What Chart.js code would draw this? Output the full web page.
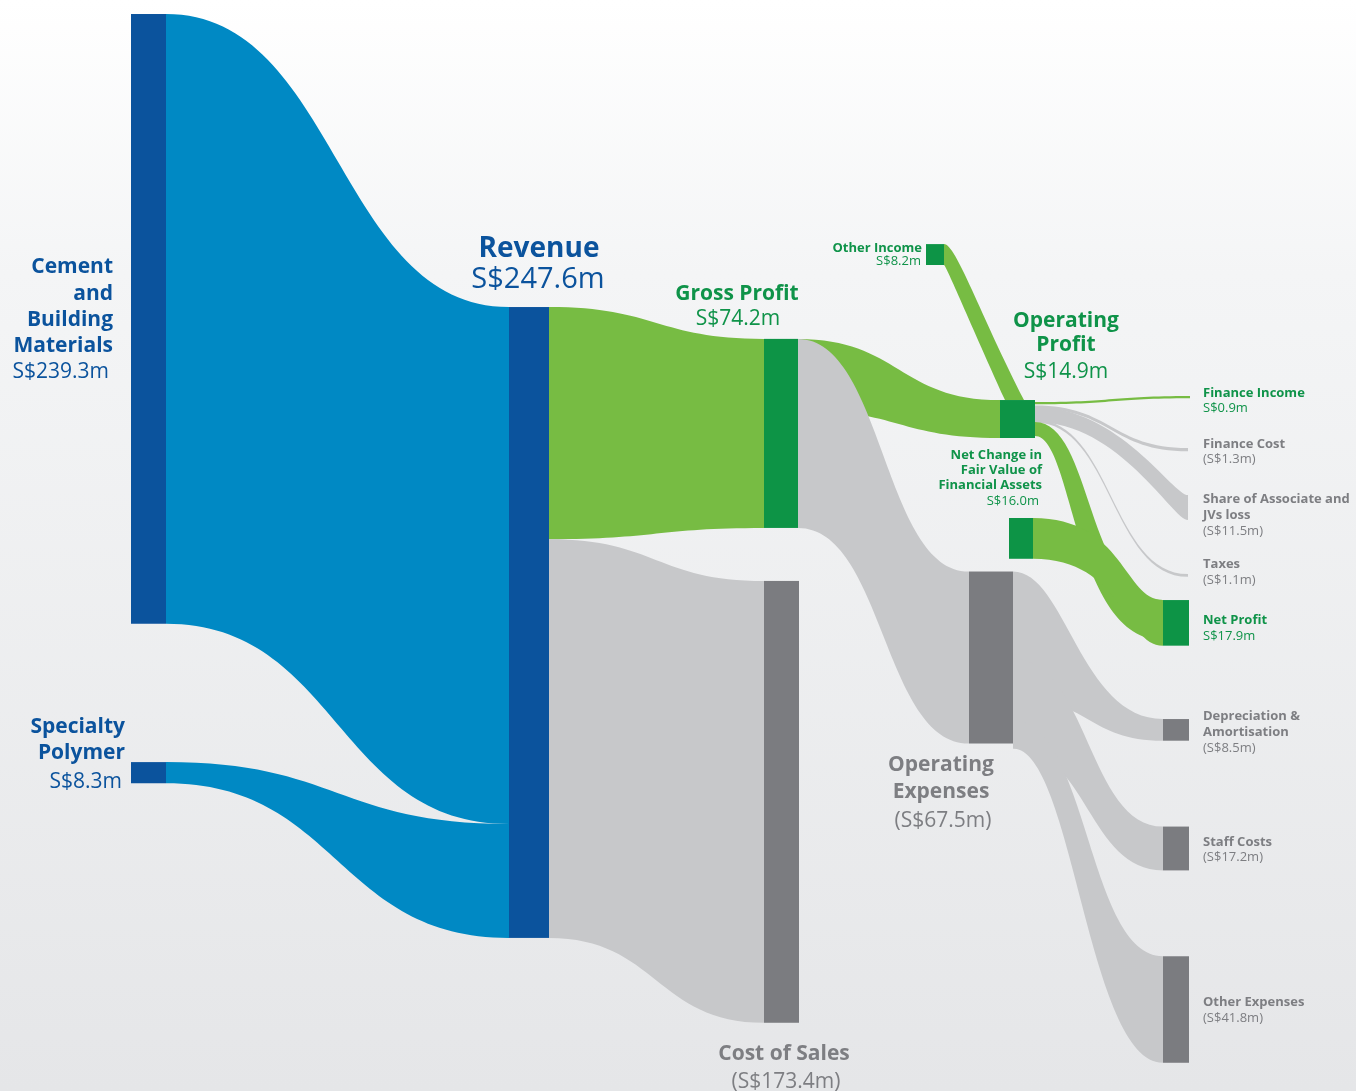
<!DOCTYPE html>
<html>
<head>
<meta charset="utf-8">
<script src="https://cdn.jsdelivr.net/npm/chart.js@4.4.1/dist/chart.umd.min.js"></script>
<style>
html,body{margin:0;padding:0;}
body{width:1356px;height:1091px;overflow:hidden;background:linear-gradient(to bottom,#ffffff 0%,#f4f5f6 25%,#e5e6e8 100%);}
canvas{display:block;}
</style>
</head>
<body>
<canvas id="sankey" width="1356" height="1091"></canvas>
<script>
// ---- data (S$ million) ----
const nodeTitles = [['Cement','and','Building','Materials'], ['Specialty','Polymer'], ['Revenue'], ['Gross Profit'], ['Cost of Sales'],
  ['Other Income'], ['Operating','Expenses'], ['Operating','Profit'], ['Net Change in','Fair Value of','Financial Assets'],
  ['Finance Income'], ['Finance Cost'], ['Share of Associate and','JVs loss'], ['Taxes'], ['Net Profit'],
  ['Depreciation &','Amortisation'], ['Staff Costs'], ['Other Expenses']];
const nodeValues = [239.3, 8.3, 247.6, 74.2, 173.4, 8.2, 67.5, 14.9, 16.0, 0.9, 1.3, 11.5, 1.1, 17.9, 8.5, 17.2, 41.8];
const nodeValueText = ['S$239.3m','S$8.3m','S$247.6m','S$74.2m','(S$173.4m)','S$8.2m','(S$67.5m)','S$14.9m','S$16.0m',
  'S$0.9m','(S$1.3m)','(S$11.5m)','(S$1.1m)','S$17.9m','(S$8.5m)','(S$17.2m)','(S$41.8m)'];
const nodeGroup = ['blue','blue','blue','green','grey','green','grey','green','green','green','grey','grey','grey','green','grey','grey','grey'];

const flowFrom   = [0, 1, 2, 2, 3, 3, 5, 7, 7, 7, 7, 7, 8, 6, 6, 6];
const flowTo     = [2, 2, 3, 4, 7, 6, 7, 9, 10, 11, 12, 13, 13, 14, 15, 16];
const flowValues = [239.3, 8.3, 74.2, 173.4, 6.7, 67.5, 8.2, 0.9, 1.3, 11.5, 1.1, 1.9, 16.0, 8.5, 17.2, 41.8];

// ---- layout (x in layout units, y in S$m units from the top) ----
const K = 2.548; // px per S$m
const nodeBox = [ // [left, width, top] ; width 0 = label anchor only
  [131,35,5.5],[131,35,299.1],[509,40,120.5],[764,34,133.0],[764,35,228.0],
  [926,18,95.8],[969,44,224.3],[1000,35,157.0],[1009,24,203.3],
  [1190,0,155.4],[1188,0,175.8],[1188,0,194.3],[1188,0,225.3],
  [1163,26,235.5],[1163,26,282.2],[1163,26,324.4],[1163,26,375.3]
];
// [srcOffset, srcBand, tgtOffset, tgtBand, top ctrl1, top ctrl2, bottom ctrl1, bottom ctrl2]
const flowBand = [
  [0,239.3, 0,202.9, .5,.5],
  [0,8.3, 202.9,44.7, .5,.5],
  [0,91.1, 0,74.2, .5,.5],
  [91.1,156.5, 0,173.4, .5,.5],
  [0,27.9, 0,14.9, .5,.5],
  [0,74.2, 0,67.5, .5,.5],
  [0,8.2, 5,19, 'top'],
  [0.8,0.9, 0,0.9, .5,.5],
  [2.1,1.3, 0,1.3, .5,.5],
  [2.7,5.9, 0,9.8, .55,.9],
  [7.7,1.1, 0,1.1, .5,.5],
  [8.6,5.5, 0,15.7, .45,.4, .3,.3],
  [0,16, 0,17.9, .7,.7],
  [0,49.5, 0,8.5, .35,.45, .5,.5],
  [34.2,35.3, 0,17.2, .5,.5],
  [58.5,11, 0,41.8, .5,.5, .4,.5]
];
const drawOrder = [0,1,2,3,4,5,6,13,14,15,8,9,10,11,12,7];
// [x, align, first baseline (S$m units), title gap px, value gap px, title size, value size, value dx]
const labelPos = [
  [113,'right',107.3,26.2,26.3,21,21,-4],
  [125,'right',287.7,26,29,21,21,-3],
  [539,'center',100.7,0,31.6,28,29,-1],
  [737,'center',117.6,0,25.7,21,21,1],
  [784,'center',416.0,0,27.7,21,21,2],
  [922,'right',98.8,0,13.5,13,13,-1],
  [941,'center',302.6,26.5,29.5,21,21,2],
  [1066,'center',128.2,24,27.6,21,21,0],
  [1042,'right',180.1,15.3,15.7,13,13,-3],
  [1203,'left',155.7,0,15.6,13,13,0],
  [1203,'left',175.7,0,15.3,13,13,0],
  [1203,'left',197.5,16,15.7,13,13,0],
  [1203,'left',223.0,0,15.7,13,13,0],
  [1203,'left',245.0,0,15.7,13,13,0],
  [1203,'left',282.6,16,15.7,13,13,0],
  [1203,'left',331.9,0,15.3,13,13,0],
  [1203,'left',394.8,0,15.7,13,13,0]
];
const palette = {
  blue:  {node:'#0b539d', flow:'#0089c4', text:'#0b539d'},
  green: {node:'#0d9446', flow:'#77bc43', text:'#0f9349'},
  grey:  {node:'#7b7c80', flow:'#c7c8ca', text:'#7d7e82'}
};
const FONT = '"Open Sans", "Noto Sans", sans-serif';

function band(ctx, x0, a0, b0, x1, a1, b1, c1, c2, c3, c4){
  const dx = x1 - x0;
  ctx.beginPath();
  ctx.moveTo(x0, a0);
  ctx.bezierCurveTo(x0 + dx*c1, a0, x0 + dx*c2, a1, x1, a1);
  ctx.lineTo(x1, b1);
  ctx.bezierCurveTo(x0 + dx*c4, b1, x0 + dx*c3, b0, x0, b0);
  ctx.closePath();
  ctx.fill();
}
function dropBand(ctx, x0, a0, b0, xt0, xt1, yt){
  // leaves source horizontally, lands on the top edge of the target node
  ctx.beginPath();
  ctx.moveTo(x0, a0);
  let dx = xt1 - x0, dy = yt - a0;
  ctx.bezierCurveTo(x0 + dx*0.15, a0, xt1 - dx*0.55, yt - dy*0.55, xt1, yt);
  ctx.lineTo(xt0, yt);
  dx = xt0 - x0; dy = yt - b0;
  ctx.bezierCurveTo(xt0 - dx*0.65, yt - dy*0.65, x0 + dx*0.03, b0, x0, b0);
  ctx.closePath();
  ctx.fill();
}

const sankeyPlugin = {
  id: 'sankeyDraw',
  afterDatasetsDraw(chart){
    const ctx = chart.ctx, xs = chart.scales.x, ys = chart.scales.y;
    const px = v => xs.getPixelForValue(v), py = v => ys.getPixelForValue(v);
    ctx.save();
    drawOrder.forEach(i => {
      const s = flowFrom[i], t = flowTo[i], b = flowBand[i];
      const sb = nodeBox[s], tb = nodeBox[t];
      ctx.fillStyle = palette[nodeGroup[t]].flow;
      const x0 = px(sb[0] + sb[1]);
      const a0 = py(sb[2] + b[0]), b0 = py(sb[2] + b[0] + b[1]);
      if (b[4] === 'top') {
        dropBand(ctx, x0, a0, b0, px(tb[0] + b[2]), px(tb[0] + b[2] + b[3]), py(tb[2]));
      } else {
        const c3 = b.length > 6 ? b[6] : b[4], c4 = b.length > 6 ? b[7] : b[5];
        band(ctx, x0, a0, b0, px(tb[0]), py(tb[2] + b[2]), py(tb[2] + b[2] + b[3]), b[4], b[5], c3, c4);
      }
    });
    nodeBox.forEach((nb, i) => {
      if (!nb[1]) return;
      ctx.fillStyle = palette[nodeGroup[i]].node;
      const x0 = px(nb[0]), x1 = px(nb[0] + nb[1]);
      const y0 = py(nb[2]), y1 = py(nb[2] + nodeValues[i]);
      ctx.fillRect(x0, y0, x1 - x0, y1 - y0);
    });
    // labels
    ctx.textBaseline = 'alphabetic';
    labelPos.forEach((lp, i) => {
      ctx.fillStyle = palette[nodeGroup[i]].text;
      ctx.textAlign = lp[1];
      const x = px(lp[0]);
      let y = py(lp[2]);
      ctx.font = '700 ' + lp[5] + 'px ' + FONT;
      nodeTitles[i].forEach((line, j) => {
        if (j > 0) y += lp[3];
        ctx.fillText(line, x, y);
      });
      y += lp[4];
      ctx.font = '400 ' + lp[6] + 'px ' + FONT;
      ctx.fillText(nodeValueText[i], x + lp[7], y);
    });
    ctx.restore();
  }
};

new Chart(document.getElementById('sankey'), {
  type: 'scatter',
  data: { datasets: [] },
  options: {
    responsive: false,
    animation: false,
    layout: { padding: 0 },
    plugins: { legend: { display: false }, tooltip: { enabled: false } },
    scales: {
      x: { type: 'linear', min: 0, max: 1356, display: false },
      y: { type: 'linear', min: 0, max: 1091 / K, reverse: true, display: false }
    }
  },
  plugins: [sankeyPlugin]
});
</script>
</body>
</html>
